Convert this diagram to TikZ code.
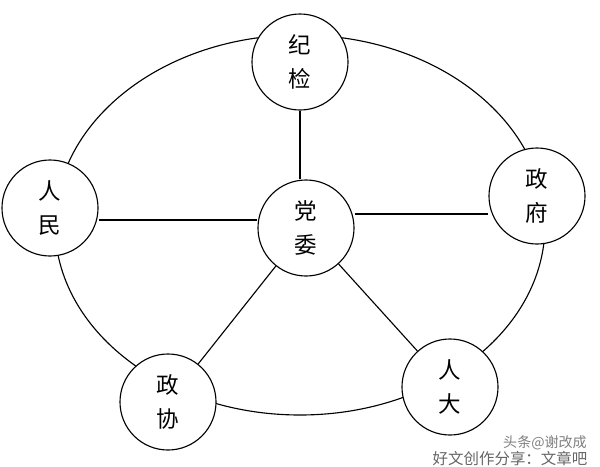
\documentclass[tikz,border=0pt]{standalone}
\usepackage{fontspec}
\newfontfamily\cjk{Noto Sans CJK SC}
\tikzset{
  org/.style={circle, draw, thick, fill=white, minimum size=2.4cm, inner sep=0pt, align=center, font=\cjk\fontsize{16}{24}\selectfont},
}
\begin{document}
\begin{tikzpicture}[x=0.025cm, y=-0.025cm]
        \useasboundingbox (0,0) rectangle (600,467);
        
        % Outer ring
        \draw[thick] (300,225) ellipse (245 and 190);
        
        % Organs
        \node[org] (jijian) at (300,62) {纪\\检};
        \node[org] (zhengfu) at (537,196) {政\\府};
        \node[org] (renmin) at (50,208) {人\\民};
        \node[org] (dangwei) at (306,228) {党\\委};
        \node[org] (zhengxie) at (168,402) {政\\协};
        \node[org] (renda) at (450,387) {人\\大};
        
        % Link ends
        \coordinate (dwright) at ([yshift=0.35cm]dangwei.east);
        \coordinate (dwleft) at ([yshift=0.2cm]dangwei.west);
        
        % Links to the centre
        \draw[thick] (dangwei.north -| jijian) -- (jijian);
        \draw[thick] (dwright) -- (zhengfu.west |- dwright);
        \draw[thick] (dwleft) -- (renmin.east |- dwleft);
        \draw[thick] (dangwei) -- (zhengxie);
        \draw[thick] (dangwei) -- (renda);
        
        % Watermark
        \node[font=\cjk\fontsize{10}{12}\selectfont, text=gray] (wm1) at (545,443) {头条@谢改成};
        \node[font=\cjk\fontsize{11}{13}\selectfont, text=gray!80!black] (wm2) at (510,459) {好文创作分享：文章吧};
\end{tikzpicture}
\end{document}
